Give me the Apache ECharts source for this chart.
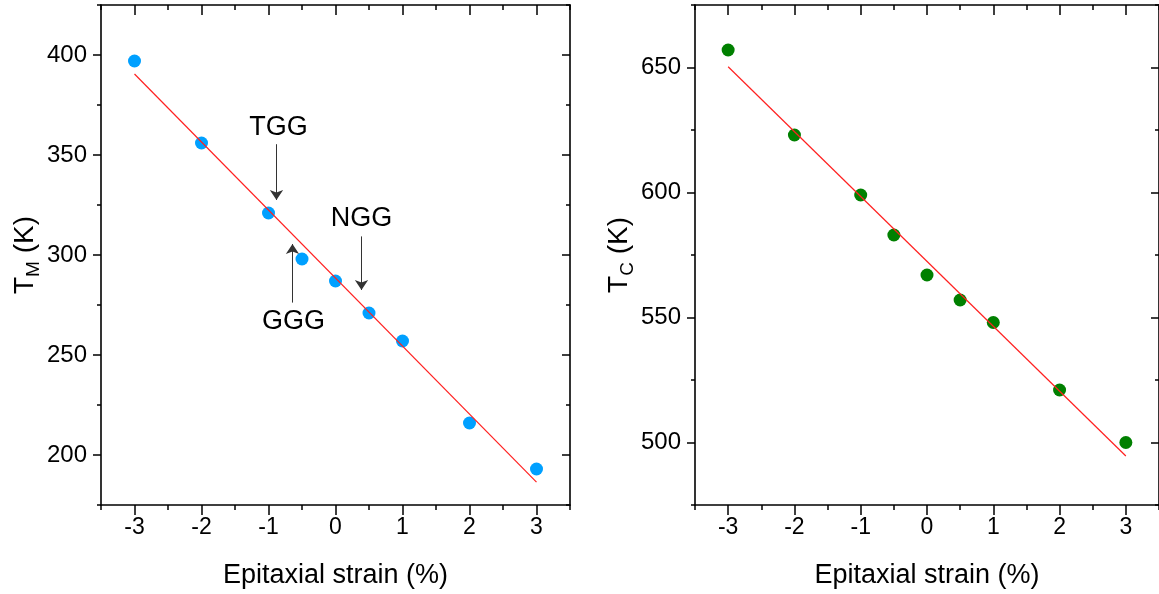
<!DOCTYPE html>
<html>
<head>
<meta charset="utf-8">
<script src="https://cdn.jsdelivr.net/npm/echarts@6/dist/echarts.min.js"></script>
<style>
html,body{margin:0;padding:0;background:#fff;}
#chart{width:1159px;height:594px;}
</style>
</head>
<body>
<div id="chart"></div>
<script>
// ---- data ----
const strain = [-3, -2, -1, -0.5, 0, 0.5, 1, 2, 3];
const tM = [397, 356, 321, 298, 287, 271, 257, 216, 193];
const tC = [657, 623, 599, 583, 567, 557, 548, 521, 500];
const fitStrain = [-3, 3];
const fitTM = [390.5, 186.4];
const fitTC = [650.3, 494.6];
const xMajor = [-3, -2, -1, 0, 1, 2, 3];
const yMajorM = [200, 250, 300, 350, 400];
const yMajorC = [500, 550, 600, 650];
// annotations (label, label x, label y, arrow x, arrow from y, arrow to y)
const annoLabels = ['TGG', 'GGG', 'NGG'];
const annoLabelX = [-0.851, -0.627, 0.388];
const annoLabelY = [363.7, 266.7, 318.3];
const annoArrowX = [-0.881, -0.642, 0.388];
const annoArrowFrom = [355.4, 276.2, 309.3];
const annoArrowTo = [327.5, 305.5, 282.5];

const FONT = "'Liberation Sans', Arial, sans-serif";
const BLACK = '#000';

function zip(a, b) { return a.map((v, i) => [v, b[i]]); }

function xAxes(g) {
  const base = { gridIndex: g, type: 'value', min: -3.5, max: 3.5, interval: 0.5, splitLine: { show: false } };
  return [
    Object.assign({}, base, {
      position: 'bottom',
      axisLine: { show: true, onZero: false, lineStyle: { color: BLACK, width: 1.6 } },
      axisTick: { show: true, inside: false, length: 5, lineStyle: { color: BLACK, width: 1.5 } },
      axisLabel: { show: true, customValues: xMajor, fontSize: 23, margin: 11, color: BLACK, fontFamily: FONT },
      name: 'Epitaxial strain (%)', nameLocation: 'middle', nameGap: 57,
      nameTextStyle: { fontSize: 27, color: BLACK, fontFamily: FONT }
    }),
    Object.assign({}, base, {
      position: 'bottom',
      axisLine: { show: false, onZero: false },
      axisTick: { show: true, inside: false, length: 10, customValues: xMajor, lineStyle: { color: BLACK, width: 1.5 } },
      axisLabel: { show: false }
    }),
    Object.assign({}, base, {
      position: 'top',
      axisLine: { show: true, onZero: false, lineStyle: { color: BLACK, width: 1.6 } },
      axisTick: { show: true, inside: true, length: 5, lineStyle: { color: BLACK, width: 1.5 } },
      axisLabel: { show: false }
    }),
    Object.assign({}, base, {
      position: 'top',
      axisLine: { show: false, onZero: false },
      axisTick: { show: true, inside: true, length: 10, customValues: xMajor, lineStyle: { color: BLACK, width: 1.5 } },
      axisLabel: { show: false }
    })
  ];
}

function yAxes(g, min, max, majors, sub) {
  const base = { gridIndex: g, type: 'value', min: min, max: max, interval: 25, splitLine: { show: false } };
  return [
    Object.assign({}, base, {
      position: 'left',
      axisLine: { show: true, onZero: false, lineStyle: { color: BLACK, width: 1.6 } },
      axisTick: { show: true, inside: false, length: 4, lineStyle: { color: BLACK, width: 1.5 } },
      axisLabel: { show: true, customValues: majors, fontSize: 24, margin: 14, color: BLACK, fontFamily: FONT },
      name: '{t|T}{s|' + sub + '}{t| (K)}', nameLocation: 'middle', nameGap: 58,
      nameTextStyle: {
        color: BLACK, fontFamily: FONT,
        rich: {
          t: { fontSize: 28, lineHeight: 36, color: BLACK, fontFamily: FONT },
          s: { fontSize: 19, lineHeight: 14, verticalAlign: 'bottom', color: BLACK, fontFamily: FONT }
        }
      }
    }),
    Object.assign({}, base, {
      position: 'left',
      axisLine: { show: false, onZero: false },
      axisTick: { show: true, inside: false, length: 8, customValues: majors, lineStyle: { color: BLACK, width: 1.5 } },
      axisLabel: { show: false }
    }),
    Object.assign({}, base, {
      position: 'right',
      axisLine: { show: true, onZero: false, lineStyle: { color: BLACK, width: 1.6 } },
      axisTick: { show: true, inside: true, length: 4, lineStyle: { color: BLACK, width: 1.5 } },
      axisLabel: { show: false }
    }),
    Object.assign({}, base, {
      position: 'right',
      axisLine: { show: false, onZero: false },
      axisTick: { show: true, inside: true, length: 8, customValues: majors, lineStyle: { color: BLACK, width: 1.5 } },
      axisLabel: { show: false }
    })
  ];
}

const arrowData = annoLabels.map((_, i) => [
  { coord: [annoArrowX[i], annoArrowFrom[i]] },
  { coord: [annoArrowX[i], annoArrowTo[i]] }
]);
const labelData = annoLabels.map((t, i) => ({ name: t, coord: [annoLabelX[i], annoLabelY[i]] }));

const chart = echarts.init(document.getElementById('chart'), null, { renderer: 'canvas' });
chart.setOption({
  animation: false,
  backgroundColor: '#fff',
  grid: [
    { left: 101, top: 5, width: 469, height: 501 },
    { left: 695, top: 5, width: 468, height: 501 }
  ],
  xAxis: xAxes(0).concat(xAxes(1)),
  yAxis: yAxes(0, 175, 425, yMajorM, 'M').concat(yAxes(1, 475, 675, yMajorC, 'C')),
  series: [
    {
      type: 'scatter', xAxisIndex: 0, yAxisIndex: 0, z: 2,
      data: zip(strain, tM), symbol: 'circle', symbolSize: 13,
      itemStyle: { color: '#00A0FF', opacity: 1 }, emphasis: { disabled: true },
      markLine: {
        silent: true, symbol: ['none', 'arrow'], symbolSize: 10,
        lineStyle: { color: '#333', width: 1, type: 'solid' },
        label: { show: false }, emphasis: { disabled: true },
        data: arrowData
      },
      markPoint: {
        silent: true, symbol: 'circle', symbolSize: 1,
        itemStyle: { color: 'rgba(0,0,0,0)' },
        label: { show: true, position: 'inside', formatter: '{b}', fontSize: 27, color: BLACK, fontFamily: FONT },
        data: labelData
      }
    },
    {
      type: 'line', xAxisIndex: 0, yAxisIndex: 0, z: 3,
      data: zip(fitStrain, fitTM), symbol: 'none',
      lineStyle: { color: '#FF2020', width: 1.2 }
    },
    {
      type: 'scatter', xAxisIndex: 4, yAxisIndex: 4, z: 2,
      data: zip(strain, tC), symbol: 'circle', symbolSize: 13,
      itemStyle: { color: '#008000', opacity: 1 }, emphasis: { disabled: true }
    },
    {
      type: 'line', xAxisIndex: 4, yAxisIndex: 4, z: 3,
      data: zip(fitStrain, fitTC), symbol: 'none',
      lineStyle: { color: '#FF2020', width: 1.2 }
    }
  ]
});
</script>
</body>
</html>
